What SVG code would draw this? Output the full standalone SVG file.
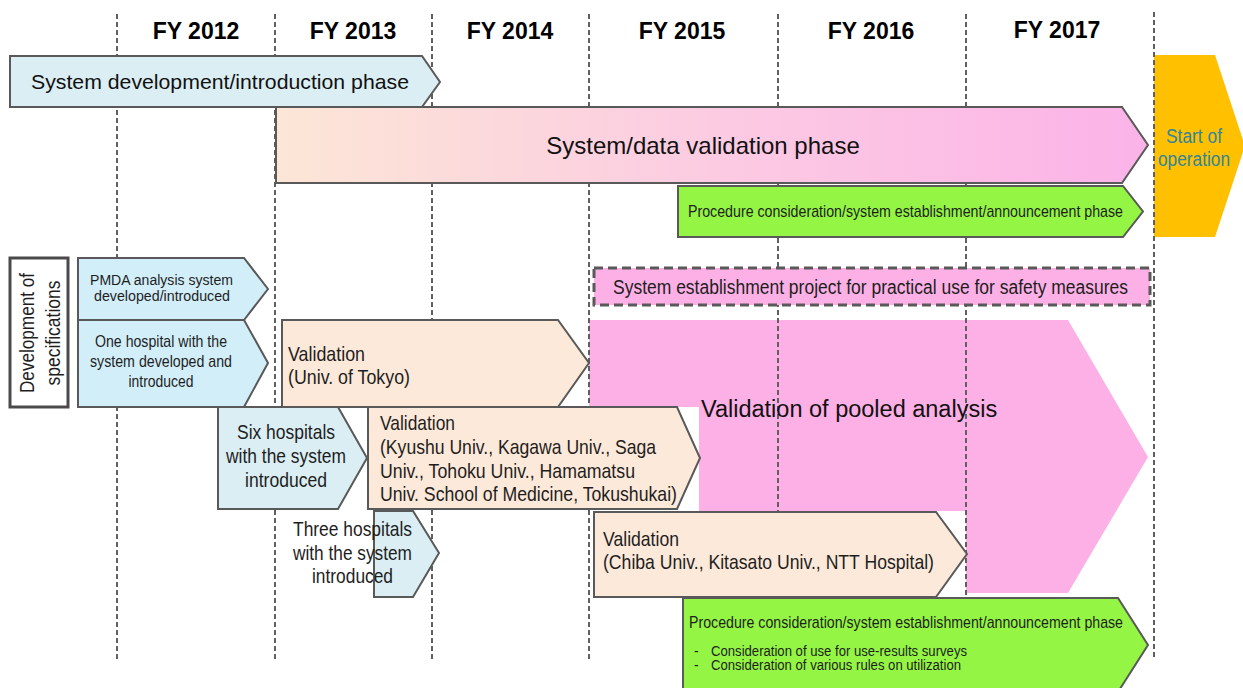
<svg xmlns="http://www.w3.org/2000/svg" width="1243" height="688" viewBox="0 0 1243 688">
  <defs>
    <linearGradient id="valGrad" x1="276" y1="0" x2="1148" y2="0" gradientUnits="userSpaceOnUse">
      <stop offset="0" stop-color="#fce6d6"/>
      <stop offset="0.5" stop-color="#fccbe2"/>
      <stop offset="1" stop-color="#fbb3e8"/>
    </linearGradient>
    <style>
      .grid { stroke: #5f5f5f; stroke-width: 2; stroke-dasharray: 5 3; fill: none; }
      .box { stroke: #595959; stroke-width: 2; stroke-linejoin: miter; }
      .blue { fill: #dbeef4; }
      .cyan { fill: #d2eef9; }
      .peach { fill: #fde9d9; }
      .green { fill: #94f544; }
      .pink { fill: #fcb0e6; }
      .year { font-family: "Liberation Sans", Arial, sans-serif; font-weight: bold; font-size: 23px; fill: #000; text-anchor: middle; }
      .big { font-family: "Liberation Sans", Arial, sans-serif; fill: #111; }
      .nar { font-family: "Liberation Sans Narrow", "Liberation Sans", Arial, sans-serif; fill: #1e1e1e; }
      .mid { text-anchor: middle; }
      .teal { fill: #31859c; }
    </style>
  </defs>

  <rect width="1243" height="688" fill="#fff"/>

  <!-- background shapes that sit beneath the year grid -->
  <g id="pooled-analysis">
    <polygon class="pink" points="589,320 1068,320 1148,457 1068,593 966,593 966,511 699,511 699,407 589,407"/>
  </g>
  <g id="start-of-operation">
    <polygon points="1154,55 1215,55 1245,146 1215,237 1154,237" fill="#ffc000"/>
  </g>

  <!-- year boundaries -->
  <g id="connectors">
    <line class="grid" x1="117" y1="14" x2="117" y2="660"/>
    <line class="grid" x1="275" y1="14" x2="275" y2="660"/>
    <line class="grid" x1="432" y1="14" x2="432" y2="660"/>
    <line class="grid" x1="589" y1="14" x2="589" y2="660"/>
    <line class="grid" x1="778" y1="14" x2="778" y2="520"/>
    <line class="grid" x1="966" y1="14" x2="966" y2="660"/>
    <line class="grid" x1="1154" y1="12" x2="1154" y2="660"/>
  </g>

  <!-- year headings -->
  <g id="years">
    <text class="year" x="196" y="39">FY 2012</text>
    <text class="year" x="353" y="39">FY 2013</text>
    <text class="year" x="510" y="39">FY 2014</text>
    <text class="year" x="682" y="39">FY 2015</text>
    <text class="year" x="871" y="39">FY 2016</text>
    <text class="year" x="1057" y="38">FY 2017</text>
  </g>

  <g id="pooled-analysis-label">
    <text class="big" x="701" y="417" font-size="23.5">Validation of pooled analysis</text>
  </g>

  <g id="start-of-operation-label">
    <text class="nar mid teal" x="1194" y="143" font-size="20" textLength="56" lengthAdjust="spacingAndGlyphs">Start of</text>
    <text class="nar mid teal" x="1194" y="166" font-size="20" textLength="72" lengthAdjust="spacingAndGlyphs">operation</text>
  </g>

  <g id="system-development-phase">
    <polygon class="box blue" points="10,56 422,56 440,82 422,107 10,107"/>
    <text class="big" x="31" y="89" font-size="21" textLength="378" lengthAdjust="spacingAndGlyphs">System development/introduction phase</text>
  </g>

  <g id="system-data-validation-phase">
    <polygon class="box" fill="url(#valGrad)" points="276,107 1122,107 1148,145 1122,183 276,183"/>
    <text class="big mid" x="703" y="154" font-size="24">System/data validation phase</text>
  </g>

  <g id="procedure-phase-top">
    <polygon class="box green" points="678,186 1123,186 1143,211.5 1123,237 678,237"/>
    <text class="nar" x="688" y="217" font-size="17" textLength="435" lengthAdjust="spacingAndGlyphs">Procedure consideration/system establishment/announcement phase</text>
  </g>

  <g id="development-of-specifications">
    <rect x="10" y="258" width="58" height="149" fill="#fff" stroke="#4a4a4a" stroke-width="3"/>
    <text class="nar mid" transform="translate(34,333) rotate(-90)" font-size="20" textLength="120" lengthAdjust="spacingAndGlyphs">Development of</text>
    <text class="nar mid" transform="translate(60,333) rotate(-90)" font-size="20" textLength="105" lengthAdjust="spacingAndGlyphs">specifications</text>
  </g>

  <g id="pmda-system">
    <polygon class="box cyan" points="78,258 244,258 268,289 244,320 78,320"/>
    <text class="nar mid" x="161.5" y="285" font-size="15.5" textLength="143" lengthAdjust="spacingAndGlyphs">PMDA analysis system</text>
    <text class="nar mid" x="162" y="301" font-size="15.5" textLength="136" lengthAdjust="spacingAndGlyphs">developed/introduced</text>
  </g>

  <g id="one-hospital">
    <polygon class="box cyan" points="78,320 244,320 268,363 244,407 78,407"/>
    <text class="nar mid" x="161" y="347" font-size="17" textLength="132" lengthAdjust="spacingAndGlyphs">One hospital with the</text>
    <text class="nar mid" x="161" y="367" font-size="17" textLength="142" lengthAdjust="spacingAndGlyphs">system developed and</text>
    <text class="nar mid" x="161" y="387" font-size="17" textLength="65" lengthAdjust="spacingAndGlyphs">introduced</text>
  </g>

  <g id="validation-tokyo">
    <polygon class="box peach" points="282,320 558,320 589,363 558,407 282,407"/>
    <text class="nar" x="288" y="361" font-size="21" textLength="77" lengthAdjust="spacingAndGlyphs">Validation</text>
    <text class="nar" x="288" y="384" font-size="21" textLength="122" lengthAdjust="spacingAndGlyphs">(Univ. of Tokyo)</text>
  </g>

  <g id="safety-measures-project">
    <rect x="594" y="268" width="556" height="37" class="pink" stroke="#595959" stroke-width="3" stroke-dasharray="9 5"/>
    <text class="nar" x="613" y="294" font-size="20" textLength="515" lengthAdjust="spacingAndGlyphs">System establishment project for practical use for safety measures</text>
  </g>

  <g id="six-hospitals">
    <polygon class="box blue" points="218,407 338,407 367,458 338,509 218,509"/>
    <text class="nar mid" x="286" y="439" font-size="21" textLength="98" lengthAdjust="spacingAndGlyphs">Six hospitals</text>
    <text class="nar mid" x="286" y="463" font-size="21" textLength="120" lengthAdjust="spacingAndGlyphs">with the system</text>
    <text class="nar mid" x="286" y="487" font-size="21" textLength="82" lengthAdjust="spacingAndGlyphs">introduced</text>
  </g>

  <g id="validation-six">
    <polygon class="box peach" points="368,407 677,407 700,458 677,509 368,509"/>
    <text class="nar" x="380" y="430" font-size="21" textLength="75" lengthAdjust="spacingAndGlyphs">Validation</text>
    <text class="nar" x="380" y="454" font-size="21" textLength="276" lengthAdjust="spacingAndGlyphs">(Kyushu Univ., Kagawa Univ., Saga</text>
    <text class="nar" x="380" y="478" font-size="21" textLength="255" lengthAdjust="spacingAndGlyphs">Univ., Tohoku Univ., Hamamatsu</text>
    <text class="nar" x="380" y="501" font-size="21" textLength="297" lengthAdjust="spacingAndGlyphs">Univ. School of Medicine, Tokushukai)</text>
  </g>

  <g id="three-hospitals">
    <polygon class="box blue" points="374,511 413,511 439,553 413,597 374,597"/>
    <text class="nar mid" x="352.5" y="536" font-size="21" textLength="119" lengthAdjust="spacingAndGlyphs">Three hospitals</text>
    <text class="nar mid" x="352.5" y="560" font-size="21" textLength="119" lengthAdjust="spacingAndGlyphs">with the system</text>
    <text class="nar mid" x="352.5" y="583" font-size="21" textLength="81" lengthAdjust="spacingAndGlyphs">introduced</text>
  </g>

  <g id="validation-three">
    <polygon class="box peach" points="594,512 936,512 967,554 936,597 594,597"/>
    <text class="nar" x="603" y="546" font-size="21" textLength="76" lengthAdjust="spacingAndGlyphs">Validation</text>
    <text class="nar" x="603" y="569" font-size="21" textLength="331" lengthAdjust="spacingAndGlyphs">(Chiba Univ., Kitasato Univ., NTT Hospital)</text>
  </g>

  <g id="procedure-phase-bottom">
    <polygon class="box green" points="683,598 1118,598 1148,645 1118,692 683,692"/>
    <text class="nar" x="689" y="628" font-size="17" textLength="434" lengthAdjust="spacingAndGlyphs">Procedure consideration/system establishment/announcement phase</text>
    <text class="nar" x="694" y="656" font-size="14">-</text>
    <text class="nar" x="711" y="656" font-size="14" textLength="256" lengthAdjust="spacingAndGlyphs">Consideration of use for use-results surveys</text>
    <text class="nar" x="694" y="670" font-size="14">-</text>
    <text class="nar" x="711" y="670" font-size="14" textLength="250" lengthAdjust="spacingAndGlyphs">Consideration of various rules on utilization</text>
  </g>
</svg>
